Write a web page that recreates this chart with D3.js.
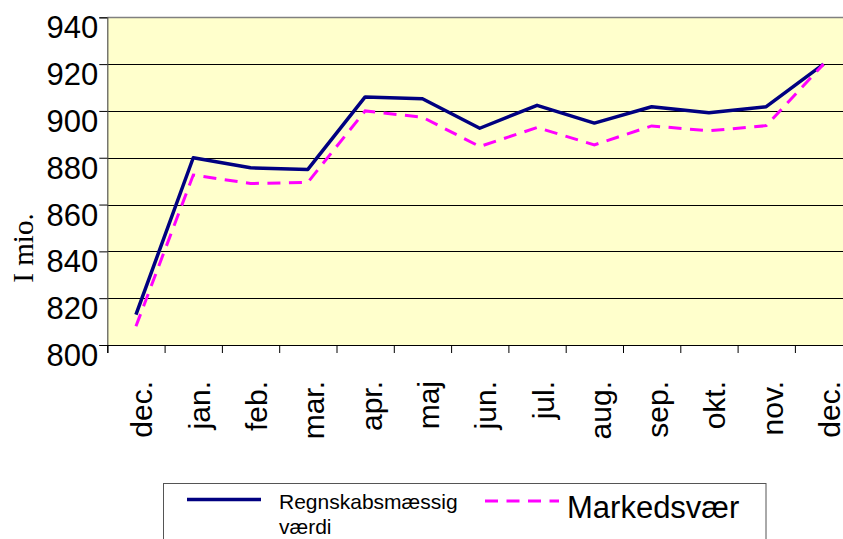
<!DOCTYPE html>
<html>
<head>
<meta charset="utf-8">
<script src="https://cdn.jsdelivr.net/npm/d3@7"></script>
<style>
  body { margin: 0; background: #fff; }
  svg { display: block; }
</style>
</head>
<body>
<div id="chart"></div>
<script>
// data
var months = ["dec.", "jan.", "feb.", "mar.", "apr.", "maj", "jun.", "jul.", "aug.", "sep.", "okt.", "nov.", "dec."];
var regnskab = [813, 880, 875.7, 875, 906, 905.2, 892.6, 902.4, 894.8, 901.8, 899.2, 901.8, 920];
var marked = [808, 872.6, 869, 869.5, 900, 897.3, 884.8, 892.9, 885.5, 893.6, 891.5, 893.7, 920];
var yTicks = [800, 820, 840, 860, 880, 900, 920, 940];
var seriesNames = ["Regnskabsmæssig værdi", "Markedsvær"];

var W = 843, H = 539;
var plot = {left: 107.3, top: 17.3, right: 852.2, bottom: 345};

var svg = d3.select("#chart").append("svg").attr("width", W).attr("height", H);

var x = d3.scaleLinear().domain([0, months.length]).range([plot.left, plot.right]);
var y = d3.scaleLinear().domain([800, 940]).range([plot.bottom, plot.top]);

// plot background
svg.append("rect").attr("x", plot.left).attr("y", plot.top)
  .attr("width", plot.right - plot.left).attr("height", plot.bottom - plot.top)
  .attr("fill", "#ffffcc");

// grid lines
svg.append("g").selectAll("line").data(yTicks.filter(d => d > 800 && d < 940)).enter()
  .append("line")
  .attr("x1", plot.left).attr("x2", plot.right)
  .attr("y1", d => Math.round(y(d)) + 0.5).attr("y2", d => Math.round(y(d)) + 0.5)
  .attr("stroke", "#000").attr("stroke-width", 1);

// top border
svg.append("line").attr("x1", plot.left).attr("x2", plot.right)
  .attr("y1", Math.round(plot.top) + 0.5).attr("y2", Math.round(plot.top) + 0.5)
  .attr("stroke", "#808080").attr("stroke-width", 1.5);

// y axis
var yAxis = d3.axisLeft(y).tickValues(yTicks).tickSize(8).tickPadding(1);
var gy = svg.append("g").attr("transform", "translate(" + plot.left + ",0)").call(yAxis);
gy.select(".domain").attr("stroke", "#555").attr("stroke-width", 1.2);
gy.selectAll(".tick line").attr("stroke", "#000");
gy.selectAll(".tick text")
  .attr("font-family", "'Liberation Sans', Arial, sans-serif")
  .attr("font-size", 31).attr("fill", "#000")
  .attr("dy", "0.66em");

// x axis ticks at category boundaries
var xAxis = d3.axisBottom(x).tickValues(d3.range(months.length + 1)).tickSize(8).tickFormat("");
var gx = svg.append("g").attr("transform", "translate(0," + plot.bottom + ")").call(xAxis);
gx.select(".domain").attr("stroke", "#000").attr("stroke-width", 1.2);
gx.selectAll(".tick line").attr("stroke", "#000");

// rotated month labels
svg.append("g").selectAll("text").data(months).enter()
  .append("text")
  .attr("transform", (d, i) => "translate(" + (x(i + 0.5) + 16.5) + ",381) rotate(-90)")
  .attr("text-anchor", "end")
  .attr("font-family", "'Liberation Sans', Arial, sans-serif")
  .attr("font-size", 30)
  .attr("fill", "#000")
  .text(d => d);

// y title
svg.append("text")
  .attr("transform", "translate(33,248) rotate(-90)")
  .attr("text-anchor", "middle")
  .attr("font-family", "'Liberation Serif', 'Times New Roman', serif")
  .attr("font-size", 29)
  .attr("fill", "#000")
  .text("I mio.");

// lines
var line = d3.line().x((d, i) => x(i + 0.5)).y(d => y(d));

svg.append("path").datum(regnskab)
  .attr("d", line).attr("fill", "none")
  .attr("stroke", "#000080").attr("stroke-width", 3.5)
  .attr("stroke-linejoin", "round");

svg.append("path").datum(marked)
  .attr("d", line).attr("fill", "none")
  .attr("stroke", "#ff00ff").attr("stroke-width", 3)
  .attr("stroke-dasharray", "13,8.5");

// legend
var lg = svg.append("g");
lg.append("rect").attr("x", 163.5).attr("y", 483.5).attr("width", 602.5).attr("height", 70)
  .attr("fill", "#fff").attr("stroke", "#555").attr("stroke-width", 1);

lg.append("line").attr("x1", 187).attr("x2", 261).attr("y1", 499.5).attr("y2", 499.5)
  .attr("stroke", "#000080").attr("stroke-width", 3.5);
var t1 = lg.append("text").attr("x", 279).attr("y", 509)
  .attr("font-family", "'Liberation Sans', Arial, sans-serif")
  .attr("font-size", 21).attr("fill", "#000");
t1.append("tspan").attr("x", 279).text("Regnskabsmæssig");
t1.append("tspan").attr("x", 279).attr("dy", 25).text("værdi");

lg.append("line").attr("x1", 485).attr("x2", 559).attr("y1", 501).attr("y2", 501)
  .attr("stroke", "#ff00ff").attr("stroke-width", 3)
  .attr("stroke-dasharray", "13,8.5");
lg.append("text").attr("x", 567).attr("y", 518)
  .attr("font-family", "'Liberation Sans', Arial, sans-serif")
  .attr("font-size", 31).attr("fill", "#000")
  .text(seriesNames[1]);
</script>
</body>
</html>
